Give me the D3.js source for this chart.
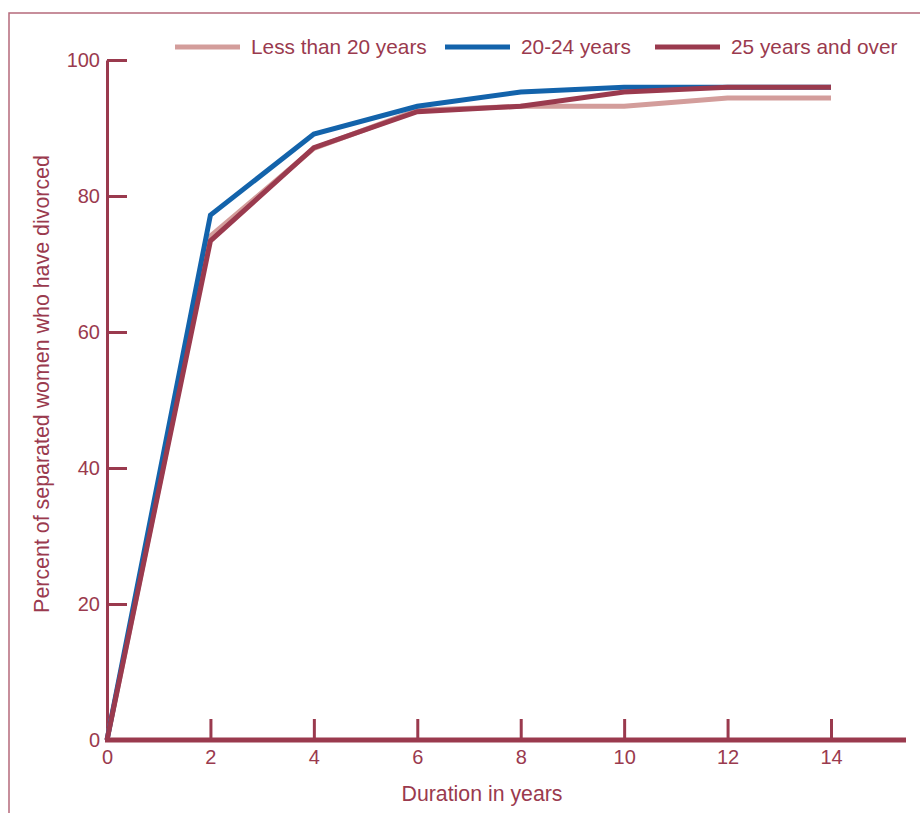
<!DOCTYPE html>
<html><head><meta charset="utf-8">
<script src="https://cdn.jsdelivr.net/npm/d3@7"></script>
<style>body{margin:0;background:#fff}svg{display:block;font-family:"Liberation Sans",Arial,sans-serif}</style>
</head><body>
<svg id="c" width="920" height="813"></svg>
<script>
const years = [0, 2, 4, 6, 8, 10, 12, 14];
const seriesNames = ["Less than 20 years", "20-24 years", "25 years and over"];
const lessThan20 = [0, 74.1, 87.0, 92.6, 93.2, 93.2, 94.4, 94.4];
const age20to24 = [0, 77.2, 89.1, 93.2, 95.3, 96.0, 96.0, 96.0];
const age25plus = [0, 73.4, 87.1, 92.4, 93.2, 95.3, 96.0, 96.0];
const xTicks = [0, 2, 4, 6, 8, 10, 12, 14];
const yTicks = [0, 20, 40, 60, 80, 100];
const colors = ["#d39d9b", "#1363ab", "#9a3a4e"];
const textColor = "#9a3a4e";

const svg = d3.select("#c");
const x = d3.scaleLinear().domain([0, 14]).range([107, 831]);
const y = d3.scaleLinear().domain([0, 100]).range([740, 60]);

// border
svg.append("rect").attr("x", 9).attr("y", 13).attr("width", 930).attr("height", 830)
  .attr("fill", "none").attr("stroke", "#b56a7b").attr("stroke-width", 1.5);

// y axis
const gy = svg.append("g").attr("transform", "translate(107,0)")
  .call(d3.axisLeft(y).tickValues(yTicks).tickSize(-20).tickSizeOuter(0).tickPadding(7));
gy.select(".domain").attr("stroke", textColor).attr("stroke-width", 3);
gy.selectAll(".tick line").attr("stroke", textColor).attr("stroke-width", 3);
gy.selectAll(".tick text").attr("fill", textColor).attr("font-size", 20).attr("font-family", "Liberation Sans, Arial, sans-serif");

// x axis
const gx = svg.append("g").attr("transform", "translate(0,740)")
  .call(d3.axisBottom(x).tickValues(xTicks).tickSize(-21).tickSizeOuter(0).tickPadding(10));
gx.select(".domain").remove();
gx.selectAll(".tick line").attr("stroke", textColor).attr("stroke-width", 3);
gx.selectAll(".tick text").attr("fill", textColor).attr("font-size", 20).attr("font-family", "Liberation Sans, Arial, sans-serif");
gx.selectAll(".tick").filter(d => d === 0).select("line").remove();

// series
const data = [lessThan20, age20to24, age25plus];
const line = d3.line().x((d, i) => x(years[i])).y(d => y(d));
data.forEach((s, k) => {
  svg.append("path").datum(s).attr("d", line).attr("fill", "none")
    .attr("stroke", colors[k]).attr("stroke-width", 5).attr("stroke-linejoin", "miter");
});

// x axis baseline on top
svg.append("line").attr("x1", 105).attr("x2", 906).attr("y1", 740).attr("y2", 740)
  .attr("stroke", textColor).attr("stroke-width", 5);

// axis titles
svg.append("text").attr("x", 482).attr("y", 801).attr("text-anchor", "middle")
  .attr("fill", textColor).attr("font-size", 21.3).text("Duration in years");
svg.append("text").attr("transform", "translate(49,384) rotate(-90)").attr("text-anchor", "middle")
  .attr("fill", textColor).attr("font-size", 21.4).text("Percent of separated women who have divorced");

// legend
const legX = [175, 445, 655];
seriesNames.forEach((n, k) => {
  svg.append("line").attr("x1", legX[k]).attr("x2", legX[k] + 65).attr("y1", 47).attr("y2", 47)
    .attr("stroke", colors[k]).attr("stroke-width", 5);
  svg.append("text").attr("x", legX[k] + 76).attr("y", 54).attr("fill", textColor)
    .attr("font-size", 20.8).text(n);
});
</script>
</body></html>
